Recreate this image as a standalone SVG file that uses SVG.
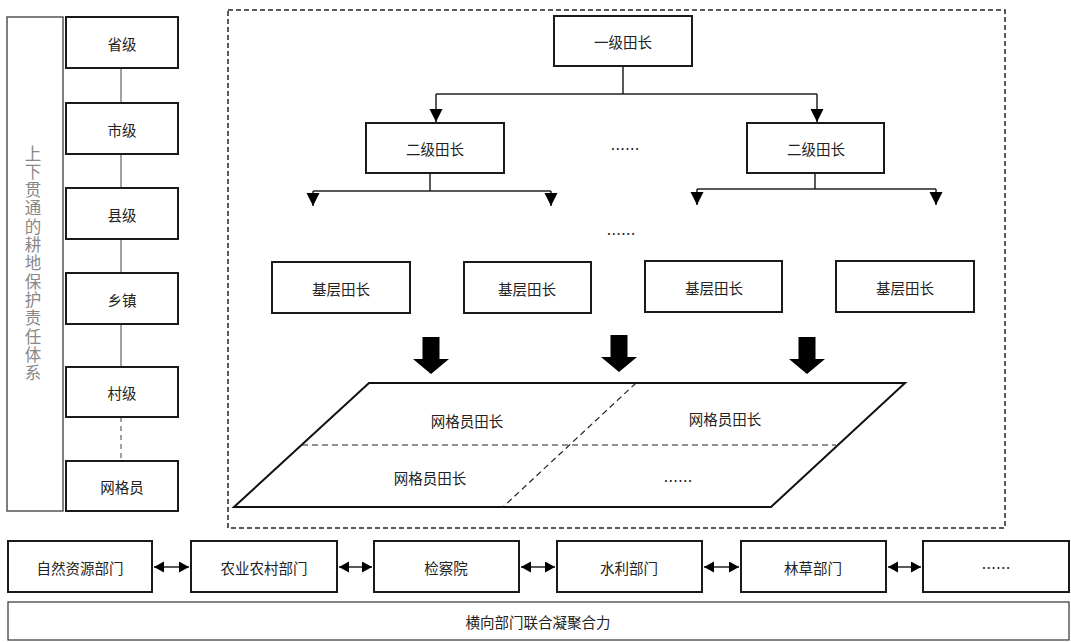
<svg xmlns="http://www.w3.org/2000/svg" width="1071" height="642" viewBox="0 0 1071 642">
<defs>
<style>
.box{fill:#fff;stroke:#1a1a1a;stroke-width:2}
.t{font-family:"Noto Sans CJK SC","Noto Sans",sans-serif;font-size:14.5px;fill:#222;text-anchor:middle;dominant-baseline:central}
.ln{stroke:#222;stroke-width:1.5;fill:none}
.thin{stroke:#444;stroke-width:1;fill:none}
.dash{stroke:#222;stroke-width:1.2;fill:none;stroke-dasharray:6 4}
.blk{fill:#000}
.vt{font-family:"Noto Sans CJK SC",sans-serif;font-size:16.5px;fill:#888;writing-mode:vertical-rl;letter-spacing:1.8px}
</style>
<marker id="tri" markerUnits="userSpaceOnUse" markerWidth="14" markerHeight="14" refX="13" refY="6.5" orient="auto">
<path d="M0,0 L13,6.5 L0,13 Z" fill="#000"/>
</marker>
<marker id="dbl" markerUnits="userSpaceOnUse" markerWidth="12" markerHeight="12" refX="10" refY="5.5" orient="auto-start-reverse">
<path d="M0,0 L10,5.5 L0,11 Z" fill="#000"/>
</marker>
</defs>
<rect width="1071" height="642" fill="#fff"/>

<g id="frame">
<rect x="228" y="10" width="777" height="518" fill="none" stroke="#222" stroke-width="1.5" stroke-dasharray="5 3"/>
</g>

<g id="system-label">
<rect x="7" y="17" width="56" height="494" fill="#fff" stroke="#555" stroke-width="1.5"/>
<text class="vt" x="33" y="145">上下贯通的耕地保护责任体系</text>
</g>

<g id="connectors">
<line class="thin" x1="121" y1="68" x2="121" y2="103"/>
<line class="thin" x1="121" y1="154" x2="121" y2="188"/>
<line class="thin" x1="121" y1="239" x2="121" y2="273"/>
<line class="thin" x1="121" y1="324" x2="121" y2="367"/>
<line class="thin" x1="121" y1="417" x2="121" y2="461" stroke-dasharray="5 4"/>
<polyline class="ln" points="623,66 623,94"/>
<polyline class="ln" points="436,94 817,94"/>
<line class="ln" x1="436" y1="94" x2="436" y2="122" marker-end="url(#tri)"/>
<line class="ln" x1="817" y1="94" x2="817" y2="122" marker-end="url(#tri)"/>
<polyline class="ln" points="430,173 430,191"/>
<polyline class="ln" points="313,191 551,191"/>
<line class="ln" x1="313" y1="191" x2="313" y2="206" marker-end="url(#tri)"/>
<line class="ln" x1="551" y1="191" x2="551" y2="206" marker-end="url(#tri)"/>
<polyline class="ln" points="815,173 815,189"/>
<polyline class="ln" points="697,189 936,189"/>
<line class="ln" x1="697" y1="189" x2="697" y2="205" marker-end="url(#tri)"/>
<line class="ln" x1="936" y1="189" x2="936" y2="205" marker-end="url(#tri)"/>
<polygon class="blk" points="422.5,337 439.5,337 439.5,359 449,359 431,374 413,359 422.5,359"/>
<polygon class="blk" points="610.5,335 627.5,335 627.5,357 637,357 619,372 601,357 610.5,357"/>
<polygon class="blk" points="798.5,337 815.5,337 815.5,359 825,359 807,374 789,359 798.5,359"/>
<line class="ln" x1="154" y1="567" x2="189" y2="567" stroke-width="2" marker-start="url(#dbl)" marker-end="url(#dbl)"/>
<line class="ln" x1="339" y1="567" x2="372" y2="567" stroke-width="2" marker-start="url(#dbl)" marker-end="url(#dbl)"/>
<line class="ln" x1="521" y1="567" x2="555" y2="567" stroke-width="2" marker-start="url(#dbl)" marker-end="url(#dbl)"/>
<line class="ln" x1="704" y1="567" x2="739" y2="567" stroke-width="2" marker-start="url(#dbl)" marker-end="url(#dbl)"/>
<line class="ln" x1="888" y1="567" x2="921" y2="567" stroke-width="2" marker-start="url(#dbl)" marker-end="url(#dbl)"/>
</g>

<g id="level-province"><rect class="box" x="66" y="17" width="112" height="51"/><text class="t" x="122" y="43">省级</text></g>
<g id="level-city"><rect class="box" x="66" y="103" width="112" height="51"/><text class="t" x="122" y="129">市级</text></g>
<g id="level-county"><rect class="box" x="66" y="188" width="112" height="51"/><text class="t" x="122" y="214">县级</text></g>
<g id="level-township"><rect class="box" x="66" y="273" width="112" height="51"/><text class="t" x="122" y="299">乡镇</text></g>
<g id="level-village"><rect class="box" x="66" y="367" width="112" height="50"/><text class="t" x="122" y="392">村级</text></g>
<g id="level-grid"><rect class="box" x="66" y="461" width="112" height="50"/><text class="t" x="122" y="486">网格员</text></g>

<g id="chief-1"><rect class="box" x="554" y="16" width="138" height="50"/><text class="t" x="623" y="41">一级田长</text></g>
<g id="chief-2a"><rect class="box" x="366" y="123" width="138" height="50"/><text class="t" x="435" y="148">二级田长</text></g>
<g id="ellipsis-2"><text class="t" x="625" y="148">……</text></g>
<g id="chief-2b"><rect class="box" x="747" y="123" width="137" height="50"/><text class="t" x="816" y="148">二级田长</text></g>
<g id="ellipsis-3"><text class="t" x="621" y="233">……</text></g>
<g id="base-1"><rect class="box" x="272" y="262" width="138" height="51"/><text class="t" x="341" y="288">基层田长</text></g>
<g id="base-2"><rect class="box" x="464" y="262" width="127" height="51"/><text class="t" x="527" y="288">基层田长</text></g>
<g id="base-3"><rect class="box" x="645" y="261" width="137" height="51"/><text class="t" x="714" y="287">基层田长</text></g>
<g id="base-4"><rect class="box" x="836" y="261" width="138" height="51"/><text class="t" x="905" y="287">基层田长</text></g>

<g id="grid-plane">
<polygon points="369,383 905,383 771,507 234,507" fill="#fff" stroke="#111" stroke-width="2"/>
<line class="dash" x1="302" y1="445" x2="836" y2="445"/>
<line class="dash" x1="636" y1="383" x2="503" y2="507"/>
<text class="t" x="467" y="420">网格员田长</text>
<text class="t" x="725" y="418">网格员田长</text>
<text class="t" x="430" y="477">网格员田长</text>
<text class="t" x="678" y="480">……</text>
</g>

<g id="dept-1"><rect class="box" x="8" y="541" width="144" height="51"/><text class="t" x="80" y="567">自然资源部门</text></g>
<g id="dept-2"><rect class="box" x="191" y="541" width="146" height="51"/><text class="t" x="264" y="567">农业农村部门</text></g>
<g id="dept-3"><rect class="box" x="374" y="541" width="145" height="51"/><text class="t" x="446" y="567">检察院</text></g>
<g id="dept-4"><rect class="box" x="557" y="541" width="145" height="51"/><text class="t" x="629" y="567">水利部门</text></g>
<g id="dept-5"><rect class="box" x="741" y="541" width="145" height="51"/><text class="t" x="813" y="567">林草部门</text></g>
<g id="dept-6"><rect class="box" x="923" y="541" width="146" height="51"/><text class="t" x="996" y="567">……</text></g>
<g id="synergy"><rect x="8" y="602" width="1061" height="38" fill="#fff" stroke="#333" stroke-width="1.2"/><text class="t" x="538" y="621">横向部门联合凝聚合力</text></g>
</svg>
